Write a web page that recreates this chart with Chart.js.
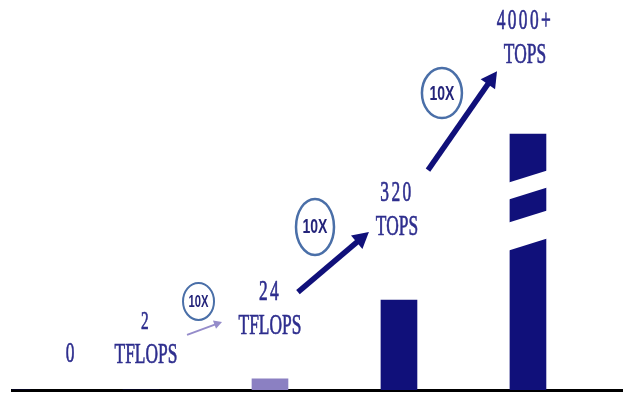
<!DOCTYPE html>
<html>
<head>
<meta charset="utf-8">
<script src="https://cdn.jsdelivr.net/npm/chart.js@4.4.1/dist/chart.umd.min.js"></script>
<style>
  html, body { margin: 0; padding: 0; background: #fff; }
  #wrap { width: 634px; height: 405px; }
</style>
</head>
<body>
<div id="wrap"><canvas id="chart"></canvas></div>
<script>
// ── Data ─────────────────────────────────────────────────
const categories = ['0', '2', '24', '320', '4000+'];
const units      = ['', 'TFLOPS', 'TFLOPS', 'TOPS', 'TOPS'];
// bar heights as drawn (320 bar = 320 units); the last bar is drawn with an axis break
const barValues  = [0, 0, 40, 320, 910];
const barColors  = ['#10107a', '#10107a', '#8b80c2', '#10107a', '#10107a'];
const growth     = ['10X', '10X', '10X'];

const NAVY = '#10107a';

// ── Helpers ──────────────────────────────────────────────
function drawArrow(ctx, x1, y1, x2, y2, w, head, color) {
  const a = Math.atan2(y2 - y1, x2 - x1);
  const bx = x2 - Math.cos(a) * head, by = y2 - Math.sin(a) * head;
  ctx.strokeStyle = color; ctx.lineWidth = w; ctx.lineCap = 'butt';
  ctx.beginPath(); ctx.moveTo(x1, y1); ctx.lineTo(bx + Math.cos(a) * 1, by + Math.sin(a) * 1); ctx.stroke();
  const hw = head * 0.55;
  ctx.fillStyle = color;
  ctx.beginPath();
  ctx.moveTo(x2, y2);
  ctx.lineTo(bx + Math.sin(a) * hw, by - Math.cos(a) * hw);
  ctx.lineTo(bx - Math.sin(a) * hw, by + Math.cos(a) * hw);
  ctx.closePath(); ctx.fill();
}

// ── Plugins ──────────────────────────────────────────────
const axisBreak = {
  id: 'axisBreak',
  afterDatasetsDraw(chart, args, o) {
    const ctx = chart.ctx;
    const bar = chart.getDatasetMeta(0).data[o.index];
    const {x, y, width} = bar.getProps(['x', 'y', 'width'], true);
    const left = x - width / 2;
    const yAt = (top, px) => y + top - (px - left) * o.slope;
    const l = left - 2, r = left + width + 2;
    ctx.save();
    ctx.fillStyle = '#fff';
    o.gaps.forEach(([a, b]) => {
      ctx.beginPath();
      ctx.moveTo(l, yAt(a, l));
      ctx.lineTo(r, yAt(a, r));
      ctx.lineTo(r, yAt(b, r));
      ctx.lineTo(l, yAt(b, l));
      ctx.closePath();
      ctx.fill();
    });
    ctx.restore();
  }
};

const valueLabels = {
  id: 'valueLabels',
  afterDatasetsDraw(chart, args, o) {
    const ctx = chart.ctx;
    chart.getDatasetMeta(0).data.forEach((bar, i) => {
      const x = bar.x + o.shift[i];
      const bottom = bar.y - o.gap[i];
      const lines = units[i] ? [categories[i], units[i]] : [categories[i]];
      lines.forEach((t, k) => {
        const y = bottom - (lines.length - 1 - k) * o.pitch;
        const size = (k === 0 && o.smallNumber[i]) ? o.size * 0.88 : o.size;
        ctx.save();
        ctx.fillStyle = o.color;
        ctx.strokeStyle = o.color;
        ctx.lineWidth = 0.7;
        ctx.font = size + 'px ' + o.family;
        ctx.textAlign = 'center';
        ctx.textBaseline = 'alphabetic';
        ctx.letterSpacing = (k === 0 && lines.length > 1) ? o.digitSpacing : '0px';
        ctx.translate(x, y);
        ctx.scale(o.squeeze, 1);
        ctx.fillText(t, 0, 0);
        ctx.strokeText(t, 0, 0);
        ctx.restore();
      });
    });
  }
};

const growthMarks = {
  id: 'growthMarks',
  afterDatasetsDraw(chart, args, o) {
    const ctx = chart.ctx;
    const xs = chart.scales.x, ys = chart.scales.y;
    const px = v => xs.getPixelForValue(v), py = v => ys.getPixelForValue(v);
    ctx.save();
    o.arrows.forEach(a => {
      drawArrow(ctx, px(a.from[0]), py(a.from[1]), px(a.to[0]), py(a.to[1]), a.width, a.head, a.color);
    });
    o.rings.forEach((r, i) => {
      const cx = px(r.at[0]), cy = py(r.at[1]);
      ctx.strokeStyle = '#4a6fa8';
      ctx.lineWidth = r.line;
      ctx.beginPath();
      ctx.ellipse(cx, cy, r.rx, r.ry, 0, 0, Math.PI * 2);
      ctx.stroke();
      ctx.save();
      ctx.fillStyle = '#24247a';
      ctx.font = 'bold ' + r.font + 'px "Liberation Sans", Arial, sans-serif';
      ctx.textAlign = 'center';
      ctx.textBaseline = 'middle';
      ctx.translate(cx, cy + 1);
      ctx.scale(0.7, 1);
      ctx.fillText(growth[i], 0, 0);
      ctx.restore();
    });
    ctx.restore();
  }
};

// ── Chart ────────────────────────────────────────────────
new Chart(document.getElementById('chart'), {
  type: 'bar',
  data: {
    datasets: [{
      data: barValues.map((v, i) => ({x: i, y: v})),
      backgroundColor: barColors,
      borderWidth: 0,
      barThickness: 36
    }]
  },
  options: {
    responsive: true, maintainAspectRatio: false, animation: false,
    layout: { padding: { left: 12, right: 12, top: 0, bottom: 15 } },
    plugins: {
      legend: { display: false },
      tooltip: { enabled: false },
      axisBreak: { index: 4, gaps: [[48, 65], [88, 116]], slope: 11 / 35 },
      valueLabels: {
        size: 29, family: '"Liberation Serif", "Times New Roman", serif',
        color: '#2e2e8e', squeeze: 0.6, pitch: 34, digitSpacing: '4px',
        smallNumber: [false, true, false, false, false],
        shift: [58, 5, 0, -2, -3],
        gap: [28, 27, 45, 65, 71]
      },
      growthMarks: {
        arrows: [
          { from: [1.357, 196], to: [1.628, 242], width: 2, head: 8, color: '#958cca' },
          { from: [2.217, 348], to: [2.767, 562], width: 5.5, head: 16, color: NAVY },
          { from: [3.225, 782], to: [3.760, 1134], width: 5.5, head: 16, color: NAVY }
        ],
        rings: [
          { at: [1.446, 315], rx: 15.5, ry: 18.5, font: 16, line: 2 },
          { at: [2.349, 580], rx: 19, ry: 28, font: 20, line: 2.5 },
          { at: [3.333, 1056], rx: 20, ry: 25, font: 20, line: 2.5 }
        ]
      }
    },
    scales: {
      x: {
        type: 'linear', min: 0, max: 4.729, offset: false,
        grid: { display: false, drawTicks: false },
        ticks: { display: false },
        border: { display: true, color: '#000', width: 3 }
      },
      y: { display: false, min: 0, max: 1387 }
    }
  },
  plugins: [axisBreak, valueLabels, growthMarks]
});
</script>
</body>
</html>
